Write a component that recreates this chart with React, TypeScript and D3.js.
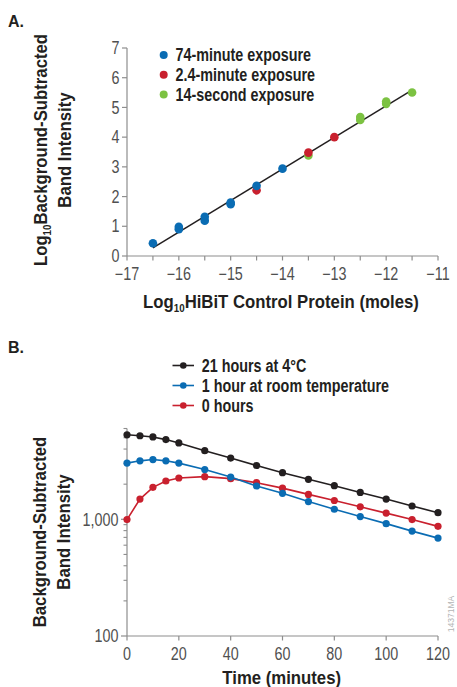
import React from "react";
import * as d3 from "d3";

// ---------- Panel A data ----------
const aX74 = [-16.5, -16, -16, -15.5, -15.5, -15, -15, -14.5, -14];
const aY74 = [0.43, 0.9, 0.98, 1.19, 1.32, 1.74, 1.8, 2.36, 2.94];
const aX24 = [-14.5, -13.5, -13];
const aY24 = [2.21, 3.48, 4.0];
const aX14 = [-13.5, -12.5, -12.5, -12, -12, -11.5];
const aY14 = [3.38, 4.58, 4.68, 5.12, 5.2, 5.5];
const fitX = [-16.5, -11.55];
const fitY = [0.27, 5.53];
const aXTicks = [-17, -16, -15, -14, -13, -12, -11];
const aXMinor = [-16.5, -15.5, -14.5, -13.5, -12.5, -11.5];
const aYTicks = [0, 1, 2, 3, 4, 5, 6, 7];
const aLegend = ["74-minute exposure", "2.4-minute exposure", "14-second exposure"];

// ---------- Panel B data ----------
const bTime = [0, 5, 10, 15, 20, 30, 40, 50, 60, 70, 80, 90, 100, 110, 120];
const b21h = [5300, 5200, 5080, 4820, 4510, 3870, 3350, 2890, 2510, 2200, 1940, 1700, 1490, 1300, 1140];
const b1h = [3030, 3170, 3250, 3170, 3030, 2670, 2300, 1930, 1670, 1420, 1220, 1055, 918, 792, 690];
const b0h = [995, 1490, 1880, 2130, 2260, 2320, 2230, 2060, 1850, 1635, 1450, 1280, 1130, 995, 870];
const bXTicks = [0, 20, 40, 60, 80, 100, 120];
const bYMajor = [100, 1000];
const bYMinor = [200, 300, 400, 500, 600, 700, 800, 900, 2000, 3000, 4000, 5000, 6000];
const bLegend = ["21 hours at 4°C", "1 hour at room temperature", "0 hours"];

const BLUE = "#0a6cb3";
const RED = "#c9202e";
const GREEN = "#7cc242";
const BLACK = "#231f20";
const AXIS = "#8e8e8e";
const TICKTXT = "#505050";
const FONT = "'Liberation Sans', Arial, sans-serif";

function NText(props: {
  x: number; y: number; children: React.ReactNode; anchor?: string;
  size?: number; weight?: string; fill?: string; rotate?: number; sx?: number;
}) {
  const { x, y, anchor = "start", size = 17.5, weight = "normal", fill = TICKTXT, rotate = 0, sx = 0.82 } = props;
  return (
    <text
      transform={`translate(${x},${y}) rotate(${rotate}) scale(${sx},1)`}
      textAnchor={anchor}
      fontFamily={FONT}
      fontSize={size}
      fontWeight={weight}
      fill={fill}
    >
      {props.children}
    </text>
  );
}

const TS = 18; // title font size
const TSX = 0.93; // title horizontal squeeze

export default function App() {
  // Panel A scales
  const ax = d3.scaleLinear().domain([-17, -11]).range([127, 438]);
  const ay = d3.scaleLinear().domain([0, 7]).range([256, 48]);
  // Panel B scales
  const bx = d3.scaleLinear().domain([0, 120]).range([127, 438]);
  const by = d3.scaleLog().domain([100, 6000]).range([636, 428.5]);

  const lineA = d3.line<number>().x((d, i) => ax(fitX[i])).y((d, i) => ay(fitY[i]));
  const mkLineB = (vals: number[]) =>
    d3.line<number>().x((d, i) => bx(bTime[i])).y((d) => by(d))(vals) || "";

  const aSeries = [
    { xs: aX14, ys: aY14, c: GREEN },
    { xs: aX24, ys: aY24, c: RED },
    { xs: aX74, ys: aY74, c: BLUE },
  ];
  const aLegColors = [BLUE, RED, GREEN];
  const bSeries = [
    { v: b0h, c: RED },
    { v: b1h, c: BLUE },
    { v: b21h, c: BLACK },
  ];
  const bLegColors = [BLACK, BLUE, RED];

  return (
    <svg width={457} height={687} style={{ display: "block", position: "absolute", left: 0, top: 0 }}
      viewBox="0 0 457 687">
      <rect x={0} y={0} width={457} height={687} fill="#fff" />
      {/* ---------- Panel A ---------- */}
      <text x={8} y={26.5} fontFamily={FONT} fontSize={16} fontWeight="bold" fill={BLACK}>A.</text>
      {/* axes */}
      <line x1={ax(-17)} x2={ax(-11)} y1={ay(0)} y2={ay(0)} stroke={AXIS} strokeWidth={1.2} />
      <line x1={ax(-17)} x2={ax(-17)} y1={ay(0)} y2={ay(7)} stroke={AXIS} strokeWidth={1.2} />
      {aXTicks.concat(aXMinor).map((t) => (
        <line key={"axt" + t} x1={ax(t)} x2={ax(t)} y1={ay(0)} y2={ay(0) + 4.5} stroke={AXIS} strokeWidth={1.2} />
      ))}
      {aYTicks.map((t) => (
        <line key={"ayt" + t} x1={ax(-17) - 5} x2={ax(-17)} y1={ay(t)} y2={ay(t)} stroke={AXIS} strokeWidth={1.2} />
      ))}
      {aXTicks.map((t) => (
        <NText key={"axl" + t} x={ax(t)} y={279.5} anchor="middle">{"\u2212" + Math.abs(t)}</NText>
      ))}
      {aYTicks.map((t) => (
        <NText key={"ayl" + t} x={119.5} y={ay(t) + 6.2} anchor="end">{String(t)}</NText>
      ))}
      {/* fit line */}
      <path d={lineA(fitX) || ""} stroke={BLACK} strokeWidth={1.5} fill="none" />
      {aSeries.map((s, si) =>
        s.xs.map((xv, i) => (
          <circle key={"ap" + si + "-" + i} cx={ax(xv)} cy={ay(s.ys[i])} r={4.3} fill={s.c} />
        ))
      )}
      {/* legend A */}
      {aLegend.map((l, i) => (
        <g key={"al" + i}>
          <circle cx={163.7} cy={55 + i * 19.7} r={4} fill={aLegColors[i]} />
          <NText x={175.5} y={55 + i * 19.7 + 6.3} weight="bold" fill={BLACK}>{l}</NText>
        </g>
      ))}
      {/* titles A */}
      <text transform={`translate(46.5,150) rotate(-90) scale(${TSX},1)`} textAnchor="middle" fontFamily={FONT}
        fontSize={TS} fontWeight="bold" fill={BLACK}>
        Log<tspan fontSize={10.5} dy={4}>10</tspan><tspan dy={-4}>Background-Subtracted</tspan>
      </text>
      <text transform={`translate(70.5,150) rotate(-90) scale(${TSX},1)`} textAnchor="middle" fontFamily={FONT}
        fontSize={TS} fontWeight="bold" fill={BLACK}>Band Intensity</text>
      <text transform={`translate(281,308.3) scale(${TSX},1)`} textAnchor="middle" fontFamily={FONT}
        fontSize={TS} fontWeight="bold" fill={BLACK}>
        Log<tspan fontSize={10.5} dy={4}>10</tspan><tspan dy={-4}>HiBiT Control Protein (moles)</tspan>
      </text>

      {/* ---------- Panel B ---------- */}
      <text x={8} y={353.3} fontFamily={FONT} fontSize={16} fontWeight="bold" fill={BLACK}>B.</text>
      {/* legend B */}
      {bLegend.map((l, i) => (
        <g key={"bl" + i}>
          <line x1={172.5} x2={194} y1={365.5 + i * 20} y2={365.5 + i * 20} stroke={bLegColors[i]} strokeWidth={1.6} />
          <circle cx={183.3} cy={365.5 + i * 20} r={3.3} fill={bLegColors[i]} />
          <NText x={201.7} y={365.5 + i * 20 + 6.3} weight="bold" fill={BLACK}>{l}</NText>
        </g>
      ))}
      {/* axes B */}
      <line x1={bx(0)} x2={bx(120)} y1={by(100)} y2={by(100)} stroke={AXIS} strokeWidth={1.2} />
      <line x1={bx(0)} x2={bx(0)} y1={by(100)} y2={by(6000)} stroke={AXIS} strokeWidth={1.2} />
      {bXTicks.map((t) => (
        <line key={"bxt" + t} x1={bx(t)} x2={bx(t)} y1={by(100)} y2={by(100) + 4.5} stroke={AXIS} strokeWidth={1.2} />
      ))}
      {bYMajor.map((t) => (
        <line key={"byt" + t} x1={bx(0) - 6} x2={bx(0)} y1={by(t)} y2={by(t)} stroke={AXIS} strokeWidth={1.2} />
      ))}
      {bYMinor.map((t) => (
        <line key={"bym" + t} x1={bx(0) - 3.5} x2={bx(0)} y1={by(t)} y2={by(t)} stroke={AXIS} strokeWidth={1.1} />
      ))}
      {bXTicks.map((t) => (
        <NText key={"bxl" + t} x={bx(t)} y={659.5} anchor="middle">{String(t)}</NText>
      ))}
      {bYMajor.map((t) => (
        <NText key={"byl" + t} x={118.5} y={by(t) + 6.2} anchor="end">{d3.format(",")(t)}</NText>
      ))}
      {bSeries.map((s, si) => (
        <g key={"bs" + si}>
          <path d={mkLineB(s.v)} stroke={s.c} strokeWidth={1.6} fill="none" />
          {s.v.map((v, i) => (
            <circle key={"bp" + si + "-" + i} cx={bx(bTime[i])} cy={by(v)} r={3.6} fill={s.c} />
          ))}
        </g>
      ))}
      {/* titles B */}
      <text transform={`translate(45.5,532) rotate(-90) scale(${TSX},1)`} textAnchor="middle" fontFamily={FONT}
        fontSize={TS} fontWeight="bold" fill={BLACK}>Background-Subtracted</text>
      <text transform={`translate(69.5,532) rotate(-90) scale(${TSX},1)`} textAnchor="middle" fontFamily={FONT}
        fontSize={TS} fontWeight="bold" fill={BLACK}>Band Intensity</text>
      <text transform={`translate(281.7,684) scale(${TSX},1)`} textAnchor="middle" fontFamily={FONT}
        fontSize={TS} fontWeight="bold" fill={BLACK}>Time (minutes)</text>
      <NText x={453.5} y={614} rotate={-90} anchor="middle" size={9.5} fill="#b5b5b5" sx={0.9}>14371MA</NText>
    </svg>
  );
}
